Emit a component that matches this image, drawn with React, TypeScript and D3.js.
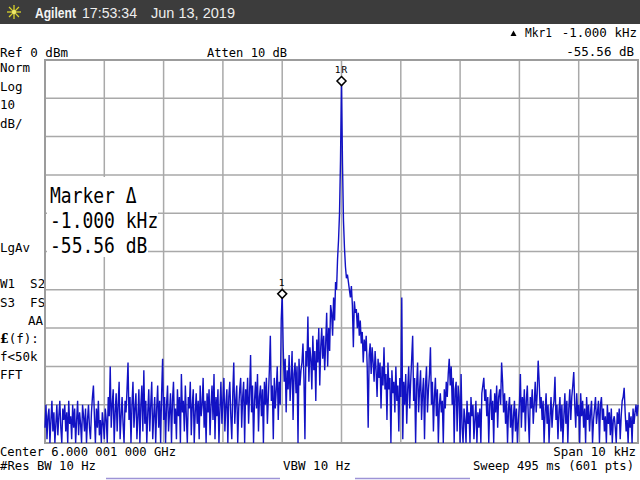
import * as d3 from "d3"

// trace, 601 pts, dBm (ref 0 dBm, 10 dB/div)
const traceDbm: number[] = [
	-96, -90, -99, -93, -91, -100, -94, -89, -97, -92, -100, -95, -90, -98, -93, -89, -96, -100, -91, -94,
	-90, -97, -92, -100, -89, -95, -93, -99, -90, -96, -91, -100, -94, -89, -98, -92, -95, -100, -90, -93,
	-97, -91, -100, -94, -90, -96, -99, -92, -88, -85, -93, -100, -91, -96, -89, -98, -94, -100, -92, -95,
	-99, -91, -94, -100, -88, -93, -80, -96, -90, -86, -100, -92, -87, -97, -90, -84, -99, -93, -88, -95,
	-100, -89, -92, -86, -79, -94, -88, -100, -90, -84, -96, -91, -87, -99, -93, -86, -100, -90, -85, -97,
	-81, -95, -89, -100, -92, -86, -97, -90, -84, -99, -93, -88, -100, -91, -85, -96, -89, -100, -87, -78,
	-94, -88, -100, -90, -85, -97, -92, -87, -100, -89, -84, -95, -91, -99, -86, -93, -88, -100, -82, -92,
	-89, -97, -85, -93, -100, -88, -91, -84, -98, -90, -86, -100, -92, -87, -95, -89, -99, -85, -93, -90,
	-83, -96, -89, -100, -87, -92, -86, -98, -90, -85, -94, -82, -99, -88, -93, -86, -100, -91, -84, -95,
	-89, -83, -97, -90, -86, -100, -88, -84, -93, -99, -87, -79, -95, -89, -85, -100, -91, -86, -83, -96,
	-88, -84, -100, -86, -90, -83, -95, -87, -77, -92, -85, -100, -89, -84, -91, -82, -97, -88, -85, -93,
	-86, -100, -84, -90, -83, -95, -88, -81, -72, -89, -85, -99, -83, -91, -86, -80, -94, -84, -90, -68,
	-61.06, -75, -84, -78, -92, -81, -86, -77, -89, -83, -76, -94, -82, -79, -87, -80, -100, -78, -85, -81,
	-79, -74, -83, -99, -76, -80, -67, -84, -75, -78, -86, -72, -81, -76, -89, -73, -79, -70, -85, -75,
	-70, -78, -72, -81, -74, -66, -80, -70, -76, -64, -66, -72, -62, -68, -58, -60, -52, -47, -40, -26,
	-5.5, -27, -42, -49, -54, -57, -56, -58, -60, -62, -59, -64, -75, -63, -66, -65, -70, -66, -72, -68,
	-74, -71, -79, -73, -76, -72, -80, -96, -77, -74, -82, -75, -79, -84, -76, -81, -88, -78, -83, -79,
	-91, -80, -85, -75, -86, -82, -94, -79, -86, -83, -100, -81, -87, -84, -92, -80, -89, -85, -97, -83,
	-88, -62, -99, -84, -90, -82, -95, -86, -80, -91, -84, -78, -72, -89, -83, -100, -85, -79, -92, -86,
	-81, -94, -87, -83, -99, -85, -80, -92, -86, -82, -75, -90, -84, -97, -88, -83, -93, -86, -100, -90,
	-87, -92, -89, -100, -86, -91, -84, -88, -82, -78, -85, -80, -90, -83, -100, -86, -84, -97, -85, -88,
	-100, -82, -96, -100, -91, -94, -100, -89, -95, -92, -100, -88, -93, -90, -99, -94, -89, -100, -92, -96,
	-91, -100, -87, -85, -83, -89, -86, -93, -88, -100, -90, -86, -94, -89, -100, -87, -92, -85, -96, -88,
	-86, -90, -79, -84, -92, -87, -95, -89, -100, -91, -88, -96, -90, -100, -93, -89, -97, -91, -100, -94,
	-90, -82, -96, -88, -92, -86, -97, -89, -85, -93, -100, -88, -91, -86, -95, -90, -84, -92, -87, -78.5,
	-84, -91, -88, -94, -89, -100, -92, -87, -95, -90, -100, -93, -88, -96, -91, -89, -82.7, -94, -90, -99,
	-92, -88, -97, -90, -100, -93, -87, -95, -89, -100, -91, -86, -94, -88, -85, -81.5, -90, -96, -87, -93,
	-90, -100, -87, -93, -89, -96, -91, -100, -88, -94, -90, -97, -92, -89, -100, -94, -91, -88, -95, -92,
	-89, -100, -90, -88, -94, -91, -97, -93, -100, -90, -95, -92, -98, -91, -100, -94, -93, -96, -100, -92,
	-95, -91, -99, -93, -89, -88, -85.6, -92, -97, -94, -100, -92, -96, -93, -100, -91, -95, -92, -90, -93,
	-90,
]

const markerIdx = [300, 240]
const markerLabels = ["1R", "1"]

const leftLabels = ["Norm", "Log", "10", "dB/"]
const leftLabels2 = ["W1  S2", "S3  FS"]
const leftLabels3 = ["f<50k", "FFT"]
const markerBox = ["Marker \u0394", "-1.000 kHz", "-55.56 dB"]

const mono = "'DejaVu Sans Mono', monospace"
const bar = "#3c3c3c"
const gridCol = "#a9a9a9"
const traceCol = "#1212c4"

const left = 45
const right = 638
const top = 60
const bottom = 443

export default function App() {
	const x = d3.scaleLinear().domain([0, traceDbm.length - 1]).range([left, right])
	const y = d3.scaleLinear().domain([-100, 0]).range([bottom, top])
	const xt = d3.scaleLinear().domain([0, 10]).range([left, right])

	const line = d3
		.line<number>()
		.x((d, i) => x(i))
		.y((d) => y(Math.max(-100, d)))

	const star = d3.range(8).map((k) => (k * Math.PI) / 4)

	const T = (props: any) => (
		<text fontFamily={mono} fontSize={12.5} fill="#000" {...props} />
	)

	return (
		<div style={{ position: "fixed", left: 0, top: 0 }}>
			<svg width={640} height={480} style={{ display: "block", background: "#fff" }}>
				<rect x={0} y={0} width={640} height={24} fill={bar} />
				<g stroke="#d9d22a" strokeWidth={1.3}>
					{star.map((a, i) => (
						<line
							key={i}
							x1={14 + Math.cos(a) * 2}
							y1={12 + Math.sin(a) * 2}
							x2={14 + Math.cos(a) * 7}
							y2={12 + Math.sin(a) * 7}
						/>
					))}
				</g>
				<circle cx={14} cy={12} r={2.2} fill="#efe86a" />
				<text x={35} y={18} fontFamily="'Liberation Sans', Arial" fontWeight="bold" fontSize={15} fill="#f4f4f4" textLength={41} lengthAdjust="spacingAndGlyphs">Agilent</text>
				<text x={82} y={18} fontFamily="'Liberation Sans', Arial" fontSize={15} fill="#eeeeee" textLength={55} lengthAdjust="spacingAndGlyphs">17:53:34</text>
				<text x={151} y={18} fontFamily="'Liberation Sans', Arial" fontSize={15} fill="#eeeeee" textLength={84} lengthAdjust="spacingAndGlyphs">Jun 13, 2019</text>

				{/* header */}
				<path d="M510.5,36 L513.5,30.5 L516.5,36 Z" fill="#000" />
				<T x={525} y={37} textLength={27} lengthAdjust="spacingAndGlyphs">Mkr1</T>
				<T x={637} y={37} textAnchor="end">-1.000 kHz</T>
				<T x={634} y={56} textAnchor="end">-55.56 dB</T>
				<T x={0} y={57} textLength={68} lengthAdjust="spacingAndGlyphs">Ref 0 dBm</T>
				<T x={207} y={57} textLength={80} lengthAdjust="spacingAndGlyphs">Atten 10 dB</T>

				{leftLabels.map((s, i) => (
					<T key={s} x={0} y={72 + i * 18.5}>{s}</T>
				))}
				<T x={0} y={252}>LgAv</T>
				{leftLabels2.map((s, i) => (
					<T key={s} x={0} y={288 + i * 18.5} style={{ whiteSpace: "pre" }}>{s}</T>
				))}
				<T x={43} y={325} textAnchor="end">AA</T>
				<T x={0} y={343}>
					<tspan fontWeight="bold" fontFamily="'DejaVu Serif', serif">£</tspan>(f):
				</T>
				{leftLabels3.map((s, i) => (
					<T key={s} x={0} y={361 + i * 18}>{s}</T>
				))}

				{/* graticule */}
				<g stroke={gridCol} strokeWidth={1.5}>
					{d3.range(1, 10).map((k) => (
						<line key={"v" + k} x1={xt(k)} x2={xt(k)} y1={top} y2={bottom} />
					))}
					{d3.range(1, 10).map((k) => (
						<line key={"h" + k} x1={left} x2={right} y1={y(-k * 10)} y2={y(-k * 10)} />
					))}
				</g>
				<rect x={left} y={top} width={right - left} height={bottom - top} fill="none" stroke="#9c9c9c" strokeWidth={2} />

				{/* trace */}
				<path d={line(traceDbm) || ""} fill="none" stroke={traceCol} strokeWidth={1.4} />

				{/* markers */}
				{markerIdx.map((m, i) => {
					const cx = x(m)
					const cy = y(traceDbm[m])
					return (
						<g key={m}>
							<path d={`M${cx},${cy - 4.5} L${cx + 4.5},${cy} L${cx},${cy + 4.5} L${cx - 4.5},${cy} Z`} fill="#fff" stroke="#000" strokeWidth={1.5} />
							<text x={cx} y={cy - 8} textAnchor="middle" fontFamily={mono} fontSize={9.5} fill="#000" letterSpacing={1}>{markerLabels[i]}</text>
						</g>
					)
				})}

				{/* marker readout */}
				<rect x={47} y={177} width={91} height={31} fill="#fff" />
				<rect x={47} y={208} width={111} height={24} fill="#fff" />
				<rect x={47} y={232} width={101} height={25} fill="#fff" />
				{markerBox.map((s, i) => (
					<text key={s} x={50} y={203 + i * 25} fontFamily={mono} fontSize={18} fill="#000" transform={`translate(0, ${(203 + i * 25) * -0.15}) scale(1, 1.15)`}>
						{s}
					</text>
				))}

				{/* footer */}
				<T x={0} y={456} textLength={176} lengthAdjust="spacingAndGlyphs">Center 6.000 001 000 GHz</T>
				<T x={636} y={456} textAnchor="end">Span 10 kHz</T>
				<T x={0} y={470} textLength={96} lengthAdjust="spacingAndGlyphs">#Res BW 10 Hz</T>
				<T x={283} y={470}>VBW 10 Hz</T>
				<T x={473} y={470} textLength={161} lengthAdjust="spacingAndGlyphs">Sweep 495 ms (601 pts)</T>
				<g stroke="#9d93d6" strokeWidth={1.5}>
					<line x1={106} x2={280} y1={478.5} y2={478.5} />
					<line x1={355} x2={470} y1={478.5} y2={478.5} />
				</g>
			</svg>
		</div>
	)
}
